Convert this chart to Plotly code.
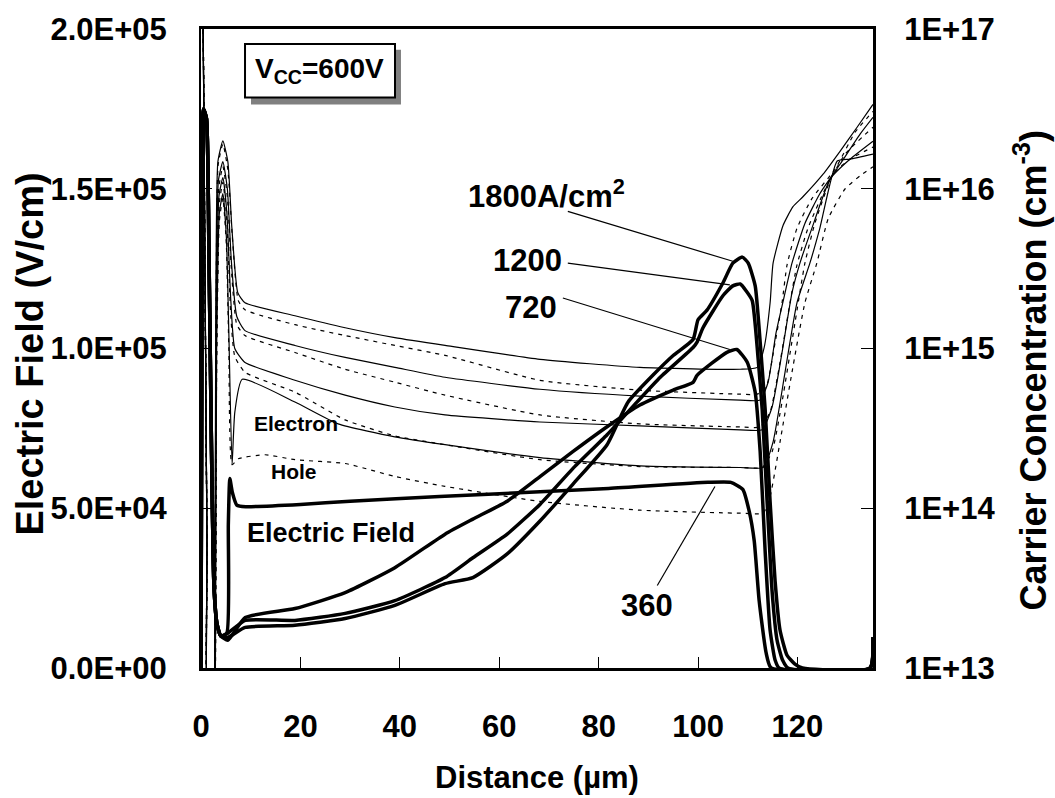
import numpy as np
import plotly.graph_objects as go

# ---------------------------------------------------------------------------
# Electric field (V/cm) versus distance (µm) for four current densities
# ---------------------------------------------------------------------------
# shared emitter-side spike
x_contact = [0, 0.25, 0.5, 1.1, 1.6, 2.1, 2.6, 3.2, 4.0]
e_contact = [0, 1.5e5, 1.75e5, 1.72e5, 1.3e5, 7.0e4, 2.6e4, 1.4e4, 1.0e4]

x_e360 = [5.2, 5.5, 5.8, 6.3, 7.2, 9.0, 20, 30, 48, 82, 102, 106.6, 109.0,
          110.3, 111.3, 112.3, 113.7, 114.7, 134.6, 135.2]
e_360 = [1.1e4, 4.5e4, 5.93e4, 5.5e4, 5.1e4, 5.05e4, 5.12e4, 5.22e4, 5.37e4,
         5.62e4, 5.81e4, 5.81e4, 5.59e4, 4.9e4, 3.98e4, 2.1e4, 4.7e3, 0, 0, 9.6e3]

x_e720 = [5.4, 8.9, 18.9, 29.0, 39.0, 49.1, 54.7, 61.6, 68.2, 74.8, 81.7, 88.3,
          95.0, 99.0, 99.8, 105.8, 107.8, 109.9, 111.5, 112.5, 113.5, 114.5,
          115.5, 116.3, 134.6, 135.2]
e_720 = [8.7e3, 1.58e4, 1.86e4, 2.36e4, 3.14e4, 4.19e4, 4.66e4, 5.22e4, 5.99e4,
         6.77e4, 7.55e4, 8.23e4, 8.7e4, 8.94e4, 9.16e4, 9.88e4, 9.97e4, 9.57e4,
         8.63e4, 6.77e4, 3.66e4, 1.18e4, 2.5e3, 0, 0, 9.6e3]

x_e1200 = [5.4, 8.9, 18.9, 29.0, 39.0, 49.1, 54.7, 61.6, 68.2, 74.8, 81.7, 87.7,
           92.4, 99.0, 99.8, 101.0, 105.0, 107.0, 108.5, 109.7, 110.9, 112.1,
           112.9, 113.9, 114.9, 115.9, 117.0, 118.1, 134.6, 135.2]
e_1200 = [1.09e4, 1.49e4, 1.49e4, 1.71e4, 2.11e4, 2.83e4, 3.45e4, 4.19e4, 5.12e4,
          6.24e4, 7.3e4, 8.32e4, 9.1e4, 1.003e5, 1.02e5, 1.065e5, 1.165e5,
          1.196e5, 1.202e5, 1.18e5, 1.15e5, 9.66e4, 8.1e4, 5.2e4, 2.4e4, 8.7e3,
          2.5e3, 0, 0, 9.6e3]

x_e1800 = [5.4, 8.9, 18.9, 29.0, 39.0, 49.1, 54.7, 61.6, 68.2, 74.8, 81.7, 85.9,
           90.9, 95.0, 99.0, 100.0, 101.8, 105.0, 107.0, 108.9, 110.1, 111.5,
           112.5, 113.5, 114.5, 115.5, 116.5, 117.9, 119.5, 121.0, 134.6, 135.2]
e_1800 = [9.6e3, 1.27e4, 1.34e4, 1.55e4, 1.96e4, 2.64e4, 2.83e4, 3.57e4, 4.6e4,
          5.75e4, 6.99e4, 8.32e4, 9.16e4, 9.78e4, 1.028e5, 1.09e5, 1.12e5,
          1.205e5, 1.267e5, 1.286e5, 1.267e5, 1.196e5, 1.02e5, 8.1e4, 5.2e4,
          2.73e4, 1.18e4, 4.0e3, 1.2e3, 0, 0, 9.6e3]

# ---------------------------------------------------------------------------
# Carrier concentration, stored as log10(cm^-3)
# ---------------------------------------------------------------------------
x_front = [0, 0.4, 0.8, 1.2, 1.6, 2.6]
n_front = [17.5, 17.1, 15.5, 13.8, 12.5, 12.5]

# electron / hole, 1800 A/cm2
x_n1800 = [2.75, 3.0, 3.4, 4.4, 5.4, 6.2, 7.4, 8.85, 18.9, 29.0, 39.0, 49.1, 68.2,
           88.3, 108.5, 111.9, 113.3, 114.5, 115.1, 117.1, 119.1, 121.1, 125.2,
           128.6, 132.0, 135.2]
n_1800 = [13.0, 15.35, 16.17, 16.30, 16.17, 15.76, 15.35, 15.286, 15.205, 15.130,
          15.068, 15.019, 14.932, 14.882, 14.870, 14.882, 15.006, 15.286, 15.534,
          15.770, 15.888, 15.950, 16.093, 16.236, 16.385, 16.528]
x_p1800 = [2.8, 3.05, 3.45, 4.4, 5.4, 6.3, 7.5, 8.85, 18.9, 29.0, 39.0, 49.1, 68.2,
           88.3, 108.5, 111.9, 113.7, 115.5, 116.9, 117.9, 119.9, 122.9, 127.6,
           131.6, 135.2]
p_1800 = [13.0, 15.3, 16.15, 16.28, 16.12, 15.7, 15.3, 15.242, 15.149, 15.081,
          15.019, 14.957, 14.801, 14.739, 14.714, 14.714, 14.758, 15.037, 15.286,
          15.522, 15.752, 15.938, 16.124, 16.354, 16.484]

# electron / hole, 1200 A/cm2
x_n1200 = [2.8, 3.05, 3.5, 4.4, 5.3, 6.1, 7.2, 8.85, 18.9, 29.0, 39.0, 49.1, 68.2,
           88.3, 108.5, 112.5, 114.1, 115.7, 117.5, 118.9, 121.5, 124.5, 128.6,
           132.6, 135.2]
n_1200 = [13.0, 15.3, 16.05, 16.17, 16.0, 15.55, 15.2, 15.112, 15.019, 14.944,
          14.882, 14.820, 14.745, 14.702, 14.677, 14.677, 14.789, 15.099, 15.348,
          15.534, 15.783, 15.969, 16.155, 16.342, 16.447]
x_p1200 = [2.85, 3.1, 3.55, 4.4, 5.3, 6.1, 7.2, 8.85, 18.9, 29.0, 39.0, 49.1, 68.2,
           88.3, 108.5, 112.5, 114.5, 116.5, 118.5, 119.9, 122.1, 125.6, 129.6,
           135.2]
p_1200 = [13.0, 15.2, 16.0, 16.14, 15.95, 15.5, 15.15, 15.081, 14.975, 14.870,
          14.789, 14.708, 14.584, 14.528, 14.509, 14.509, 14.602, 14.913, 15.286,
          15.522, 15.752, 16.000, 16.217, 16.385]

# electron / hole, 720 A/cm2
x_n720 = [2.85, 3.1, 3.6, 4.4, 5.2, 6.0, 6.8, 8.85, 18.9, 29.0, 39.0, 49.1, 68.2,
          88.3, 108.5, 112.9, 114.9, 116.9, 118.9, 120.5, 122.9, 126.6, 130.6,
          135.2]
n_720 = [13.0, 15.1, 15.95, 16.07, 15.85, 15.3, 15.0, 14.913, 14.801, 14.708,
         14.634, 14.584, 14.540, 14.516, 14.491, 14.491, 14.634, 14.975, 15.348,
         15.534, 15.752, 16.062, 16.186, 16.298]
x_p720 = [2.9, 3.15, 3.65, 4.4, 5.2, 6.0, 6.8, 8.85, 18.9, 29.0, 39.0, 49.1, 68.2,
          88.3, 108.5, 112.9, 114.9, 116.9, 119.5, 121.5, 123.5, 127.2, 130.6,
          135.2]
p_720 = [13.0, 15.0, 15.9, 16.04, 15.8, 15.2, 14.95, 14.851, 14.727, 14.553,
         14.453, 14.398, 14.304, 14.261, 14.255, 14.255, 14.354, 14.665, 15.161,
         15.534, 15.783, 16.093, 16.186, 16.261]

# electron / hole, 360 A/cm2
x_n360 = [2.9, 3.15, 3.7, 4.4, 5.1, 5.6, 6.25, 6.8, 8.3, 18.9, 27.6, 39.0, 49.1,
          68.2, 88.3, 108.5, 113.1, 115.1, 117.5, 119.9, 122.5, 124.5, 128.0,
          130.6, 135.2]
n_360 = [13.0, 15.0, 15.85, 15.97, 15.7, 15.1, 14.273, 14.6, 14.807, 14.665,
         14.528, 14.447, 14.398, 14.317, 14.265, 14.255, 14.255, 14.416, 14.851,
         15.286, 15.534, 15.752, 16.174, 16.186, 16.217]
x_p360 = [2.9, 3.15, 3.7, 4.4, 5.1, 5.6, 6.25, 7.5, 12.9, 18.9, 29.0, 39.0, 49.1,
          68.2, 88.3, 108.5, 113.1, 114.5, 116.5, 118.9, 121.5, 123.9, 126.2,
          129.6, 132.6, 135.2]
p_360 = [13.0, 14.9, 15.8, 15.94, 15.65, 15.0, 14.273, 14.31, 14.335, 14.304,
         14.280, 14.199, 14.137, 14.043, 13.988, 13.969, 13.969, 14.075, 14.416,
         14.851, 15.286, 15.534, 15.814, 16.000, 16.081, 16.137]

# axis ticks
x_ticks = [0, 20, 40, 60, 80, 100, 120]
field_ticks = [0, 5e4, 1e5, 1.5e5, 2e5]
field_tick_text = ["0.0E+00", "5.0E+04", "1.0E+05", "1.5E+05", "2.0E+05"]
conc_ticks = [1e13, 1e14, 1e15, 1e16, 1e17]
conc_tick_text = ["1E+13", "1E+14", "1E+15", "1E+16", "1E+17"]

FONT = "Liberation Sans, Arial, sans-serif"

fig = go.Figure()

# carrier profiles (thin: solid = electrons, dashed = holes)
carriers = [
    (x_n1800, n_1800, "solid"), (x_p1800, p_1800, "4px,5px"),
    (x_n1200, n_1200, "solid"), (x_p1200, p_1200, "4px,5px"),
    (x_n720, n_720, "solid"), (x_p720, p_720, "4px,5px"),
    (x_n360, n_360, "solid"), (x_p360, p_360, "4px,5px"),
]
for xs, logn, dash in carriers:
    fig.add_trace(go.Scatter(
        x=x_front + xs, y=10 ** np.array(n_front + logn), yaxis="y2",
        mode="lines",
        line=dict(color="black", width=1.2, dash=dash, shape="spline", smoothing=0.5),
        hoverinfo="skip"))

# electric field profiles (thick)
for xs, es in [(x_e360, e_360), (x_e720, e_720), (x_e1200, e_1200), (x_e1800, e_1800)]:
    fig.add_trace(go.Scatter(
        x=x_contact + xs, y=e_contact + es, yaxis="y",
        mode="lines",
        line=dict(color="black", width=3.5, shape="spline", smoothing=0.5),
        hoverinfo="skip"))

# Vcc box with drop shadow
fig.add_shape(type="rect", xref="paper", yref="paper",
              x0=0.0744, x1=0.2976, y0=0.882, y1=0.9674,
              fillcolor="#808080", line=dict(width=0), layer="above")
fig.add_shape(type="rect", xref="paper", yref="paper",
              x0=0.0655, x1=0.2887, y0=0.8929, y1=0.9767,
              fillcolor="white", line=dict(color="black", width=2), layer="above")

annotations = [
    dict(text="V<sub>CC</sub>=600V", x=0.177, y=0.9348, xref="paper", yref="paper",
         font=dict(size=28)),
    dict(text="Electron", x=19.1, y=7.64e4, font=dict(size=21)),
    dict(text="Hole", x=18.8, y=6.15e4, font=dict(size=21)),
    dict(text="Electric Field", x=26.1, y=4.23e4, font=dict(size=27)),
    dict(text="1800A/cm<sup>2</sup>", x=69.6, y=1.485e5, font=dict(size=31)),
    dict(text="1200", x=65.7, y=1.275e5, font=dict(size=31)),
    dict(text="720", x=66.4, y=1.129e5, font=dict(size=31)),
    dict(text="360", x=89.8, y=1.97e4, font=dict(size=31)),
    # axis titles
    dict(text="Distance (µm)", x=0.5, y=-0.171, xref="paper", yref="paper",
         font=dict(size=31)),
    dict(text="Electric Field (V/cm)", x=-0.2545, y=0.492, xref="paper", yref="paper",
         textangle=-90, font=dict(size=38)),
    dict(text="Carrier Concentration (cm<sup>-3</sup>)", x=1.2336, y=0.467,
         xref="paper", yref="paper", textangle=-90, font=dict(size=36)),
]
for a in annotations:
    a.setdefault("xref", "x")
    a.setdefault("yref", "y")
    a["showarrow"] = False
    a["xanchor"] = "center"
    a["yanchor"] = "middle"
    a["font"] = dict(family=FONT, color="black", weight="bold", **a["font"])
fig.update_layout(annotations=annotations)

# leader lines from current-density labels to the field peaks
leaders = [
    ((73.8, 1.429e5), (107.0, 1.273e5)),
    ((73.8, 1.267e5), (106.4, 1.199e5)),
    ((72.8, 1.158e5), (106.4, 9.97e4)),
    ((91.8, 2.58e4), (103.4, 5.68e4)),
]
for (x0, y0), (x1, y1) in leaders:
    fig.add_shape(type="line", xref="x", yref="y", x0=x0, y0=y0, x1=x1, y1=y1,
                  line=dict(color="black", width=1.2))

tick_font = dict(family=FONT, size=31, color="black", weight="bold")
fig.update_layout(
    width=1055, height=798,
    margin=dict(l=201, r=182, t=24, b=130),
    paper_bgcolor="white", plot_bgcolor="white",
    showlegend=False,
    font=dict(family=FONT, color="black"),
    xaxis=dict(range=[0, 135.2], tickvals=x_ticks, ticks="inside", ticklen=11,
               tickwidth=1.2, tickcolor="black", showline=True, linecolor="black",
               linewidth=2.5, mirror=True, showgrid=False, zeroline=False,
               tickfont=tick_font, ticklabelstandoff=29),
    yaxis=dict(range=[0, 2e5], tickvals=field_ticks, ticktext=field_tick_text,
               ticks="inside", ticklen=11, tickwidth=1.2, tickcolor="black",
               showline=True, linecolor="black", linewidth=2, showgrid=False,
               zeroline=False, tickfont=tick_font, ticklabelstandoff=26),
    yaxis2=dict(type="log", range=[13, 17], overlaying="y", side="right",
                tickvals=conc_ticks, ticktext=conc_tick_text, ticks="inside",
                ticklen=12, tickwidth=1.2, tickcolor="black", showline=True,
                linecolor="black", linewidth=3, showgrid=False, zeroline=False,
                tickfont=tick_font, ticklabelstandoff=22),
)

fig.write_html("out.html")
